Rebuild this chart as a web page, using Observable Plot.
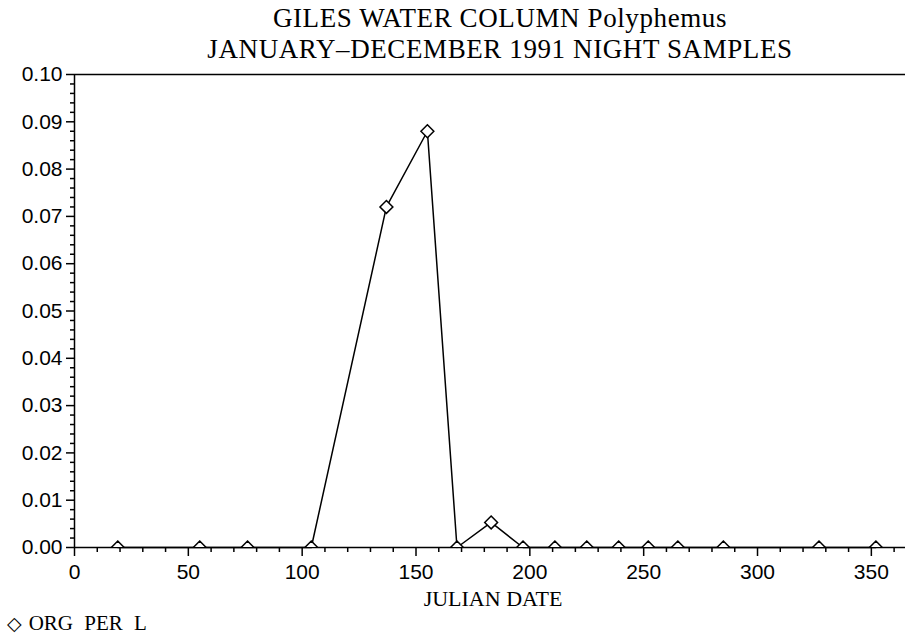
<!DOCTYPE html>
<html>
<head>
<meta charset="utf-8">
<script src="https://cdn.jsdelivr.net/npm/d3@7"></script>
<script src="https://cdn.jsdelivr.net/npm/@observablehq/plot@0.6"></script>
<style>
  html, body { margin: 0; padding: 0; background: #fff; overflow: hidden; }
  #wrap { position: relative; width: 905px; height: 639px; }
  .title { position: absolute; left: 0; width: 1000px; text-align: center; font-family: "Liberation Serif", serif; font-size: 27px; line-height: 27px; letter-spacing: 0.6px; color: #000; white-space: nowrap; }
  #chart { position: absolute; left: 0; top: 60px; }
  #legend { position: absolute; left: 7px; top: 611px; font-family: "Liberation Serif", serif; font-size: 21px; line-height: 24px; color: #000; word-spacing: 6px; white-space: nowrap; }
  #legend .sym { font-family: "DejaVu Sans", sans-serif; font-size: 19px; margin-right: 7px; }
</style>
</head>
<body>
<div id="wrap">
  <div class="title" style="top:5px">GILES WATER COLUMN Polyphemus</div>
  <div class="title" style="top:36px">JANUARY–DECEMBER 1991 NIGHT SAMPLES</div>
  <div id="chart"></div>
  <div id="legend"><span class="sym">◇</span>ORG PER L</div>
</div>
<script>
// Data
const julianDay = [19, 55, 76, 104, 137, 155, 168, 183, 197, 211, 225, 239, 252, 265, 285, 327, 352];
const orgPerL   = [0, 0, 0, 0, 0.072, 0.088, 0, 0.0053, 0, 0, 0, 0, 0, 0, 0, 0, 0];

// Tick values
const xMajorTicks = [0, 50, 100, 150, 200, 250, 300, 350];
const yMajorTicks = [0.00, 0.01, 0.02, 0.03, 0.04, 0.05, 0.06, 0.07, 0.08, 0.09, 0.10];
const xMinorTicks = d3.range(0, 361, 10).filter(v => v % 50 !== 0);
const yMinorTicks = d3.range(0, 50).map(i => i * 0.002).filter((v, i) => i % 5 !== 0);

const data = julianDay.map((d, i) => ({day: d, value: orgPerL[i]}));

const chart = Plot.plot({
  width: 905,
  height: 552,
  marginLeft: 74,
  marginRight: 0,
  marginTop: 14,
  marginBottom: 65,
  x: {domain: [0, 365]},
  y: {domain: [0, 0.1]},
  style: {fontFamily: "Liberation Sans, sans-serif", fontSize: "21px", color: "black", background: "white", overflow: "visible"},
  marks: [
    Plot.axisY({ticks: yMinorTicks, tickSize: 4, tickFormat: () => "", label: null, strokeWidth: 1.5}),
    Plot.axisY({ticks: yMajorTicks, tickSize: 8, tickPadding: 4, tickFormat: d3.format(".2f"), label: null, strokeWidth: 1.5}),
    Plot.axisX({ticks: xMinorTicks, tickSize: 5, tickFormat: () => "", label: null, strokeWidth: 1.5}),
    Plot.axisX({ticks: xMajorTicks, tickSize: 9, tickPadding: 8, tickFormat: d3.format("d"), label: null, strokeWidth: 1.5}),
    Plot.ruleX([0], {stroke: "black", strokeWidth: 1.5}),
    Plot.ruleY([0], {stroke: "black", strokeWidth: 1.5}),
    Plot.ruleY([0.1], {stroke: "black", strokeWidth: 1.5}),
    Plot.line(data, {x: "day", y: "value", stroke: "black", strokeWidth: 1.5}),
    Plot.dot(data, {x: "day", y: "value", symbol: "diamond2", r: 5.8, fill: "white", stroke: "black", strokeWidth: 1.5, clip: true}),
    Plot.text(["JULIAN DATE"], {text: d => d, frameAnchor: "bottom", dy: 58, dx: 3, lineAnchor: "bottom", fontFamily: "Liberation Serif, serif", fontSize: 22})
  ]
});
document.getElementById("chart").appendChild(chart);
</script>
</body>
</html>
